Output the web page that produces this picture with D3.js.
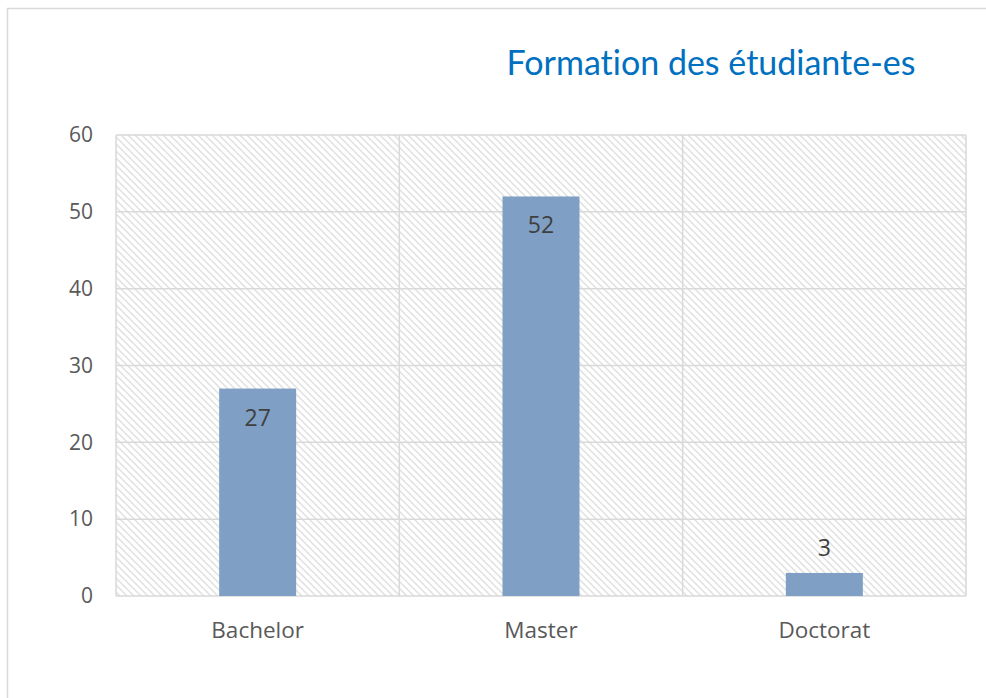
<!DOCTYPE html>
<html><head><meta charset="utf-8">
<script src="https://cdn.jsdelivr.net/npm/d3@7"></script>
<style>body{margin:0;background:#fff}svg{display:block}</style>
</head><body>
<script>
const categories = ["Bachelor", "Master", "Doctorat"];
const values = [27, 52, 3];
const yTicks = [0, 10, 20, 30, 40, 50, 60];
const title = "Formation des étudiante-es";

const W = 986, H = 698;
const m = {left: 116, right: 20, top: 135, bottom: 102};
const svg = d3.select("body").append("svg").attr("width", W).attr("height", H);

const defs = svg.append("defs");
const pat = defs.append("pattern").attr("id", "hatch").attr("patternUnits", "userSpaceOnUse")
  .attr("width", 7).attr("height", 7);
pat.append("path").attr("d", "M-1,-1 L8,8 M-8,-1 L1,8 M6,-1 L15,8")
  .attr("stroke", "#e0e0e0").attr("stroke-width", 1.5);

// outer border
svg.append("path").attr("d", `M7.5,${H} L7.5,8.5 L${W},8.5`).attr("fill", "none")
  .attr("stroke", "#d9d9d9").attr("stroke-width", 1.5);

const x = d3.scaleBand().domain(categories).range([m.left, W - m.right]).paddingInner(0).paddingOuter(0);
const y = d3.scaleLinear().domain([0, 60]).range([H - m.bottom, m.top]);

const g = svg.append("g");
g.append("rect").attr("x", m.left).attr("y", m.top).attr("width", W - m.right - m.left)
  .attr("height", H - m.bottom - m.top).attr("fill", "url(#hatch)");

g.selectAll("line.h").data(yTicks).join("line")
  .attr("x1", m.left).attr("x2", W - m.right)
  .attr("y1", d => y(d)).attr("y2", d => y(d))
  .attr("stroke", "#d9d9d9").attr("stroke-width", 1.5);
const vb = categories.map(c => x(c)).concat([x(categories[categories.length - 1]) + x.bandwidth()]);
g.selectAll("line.v").data(vb).join("line")
  .attr("x1", d => d).attr("x2", d => d)
  .attr("y1", m.top).attr("y2", H - m.bottom)
  .attr("stroke", "#d9d9d9").attr("stroke-width", 1.5);

const yAxis = d3.axisLeft(y).tickValues(yTicks).tickSize(0).tickPadding(23);
const ya = svg.append("g").attr("transform", `translate(${m.left},0)`).call(yAxis);
ya.select(".domain").remove();
ya.selectAll("text").attr("font-family", "'Open Sans', sans-serif").attr("font-size", 21).attr("fill", "#595959");

const xAxis = d3.axisBottom(x).tickSize(0).tickPadding(26);
const xa = svg.append("g").attr("transform", `translate(0,${H - m.bottom})`).call(xAxis);
xa.select(".domain").remove();
xa.selectAll("text").attr("font-family", "'Open Sans', sans-serif").attr("font-size", 22.5).attr("fill", "#595959");

const bw = 77;
svg.append("g").selectAll("rect").data(values).join("rect")
  .attr("x", (d, i) => x(categories[i]) + x.bandwidth() / 2 - bw / 2)
  .attr("width", bw)
  .attr("y", d => y(d))
  .attr("height", d => y(0) - y(d))
  .attr("fill", "#7f9fc4");

svg.append("g").selectAll("text").data(values).join("text")
  .attr("x", (d, i) => x(categories[i]) + x.bandwidth() / 2)
  .attr("y", d => (y(0) - y(d) > 50) ? y(d) + 37 : y(d) - 17)
  .attr("text-anchor", "middle")
  .attr("font-family", "'Open Sans', sans-serif").attr("font-size", 23).attr("fill", "#404040")
  .text(d => d);

svg.append("text").attr("x", 711).attr("y", 75).attr("text-anchor", "middle")
  .attr("font-family", "Lato, sans-serif").attr("font-size", 34).attr("fill", "#0070c0")
  .style("font-variant-ligatures", "none")
  .text(title);
</script>
</body></html>
